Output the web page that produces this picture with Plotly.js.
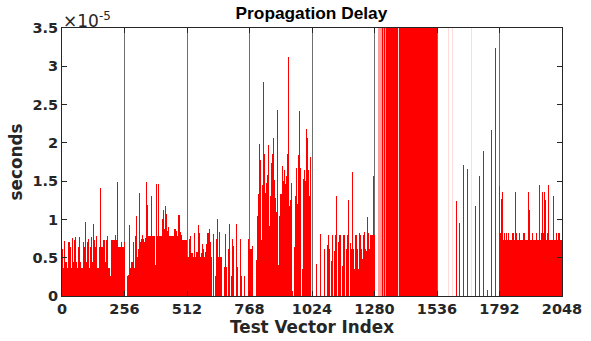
<!DOCTYPE html>
<html>
<head>
<meta charset="utf-8">
<script src="https://cdn.plot.ly/plotly-3.0.1.min.js"></script>
<style>html,body{margin:0;padding:0;background:#fff;}#chart{width:591px;height:341px;}</style>
</head>
<body>
<div id="chart"></div>
<script>
// Propagation delay per test vector, in units of 1e-5 s.
// Each value covers a group of 4 consecutive test vectors (64 groups per block of 256).
const SAT = 5; // off-scale (above 3.5e-5)
const block0 = [0.62,0.36,0.72,0.45,0.45,0.36,0.71,0.71,0.64,0.36,0.76,0.45,0.73,0.77,0.45,0.36,
  0.64,0.77,0.45,0.36,0.36,0.62,0.71,0.64,0.97,0.45,0.71,0.74,0.36,0.64,0.77,0.45,
  0.94,0.73,0.64,0.78,0.36,0.36,0.64,1.41,0.64,0.64,0.73,0.73,0.45,0.73,0.79,0.36,
  0.37,0.26,0.73,0.73,0.73,0.73,0.80,0.73,1.49,0.64,0.64,0.64,0.71,0.64,0.64,0.71];
const block1 = [0,0,0,0.26,0.27,0.93,0.36,0.45,0.45,0.71,0.36,0.78,1.05,0.51,0.62,1.35,
  0.71,0.75,0.80,0.75,0.71,0.76,1.49,1.19,0.78,0.78,0.78,1.30,0.78,0.78,0.78,0.40,
  1.46,0.78,1.46,0.78,0.78,0.78,1.00,1.12,0.88,1.17,0.78,1.07,0.85,0.90,0.78,0.78,
  0.78,0.78,0.78,0.88,0.88,0.85,0.78,1.06,1.06,0.83,0.80,0.73,0.73,0.73,0.73,0.73];
const block2 = [0.51,0.51,0.75,0.78,0.56,0.56,0.51,0.82,0.51,0.57,0.57,0.93,0.82,0.51,0.56,0.68,
  0.62,0.51,0.57,0.68,0.82,0.57,0.82,0.87,0.70,0.51,0,0.81,0,0.26,0.75,1.00,
  0.51,0.84,0.51,0.51,0,0,0.38,0.81,0.38,0,0.62,0.94,0,0.26,0.75,0.65,
  0,0,0.94,0.38,0,0,0.74,0.26,0,0,0.26,0,0,0,0.74,0.62];
const block3 = [0.62,0.62,0.62,0.65,0,0,0,0.47,1.04,1.33,1.99,1.78,0.73,1.45,2.79,1.86,
  1.35,1.47,1.58,1.97,0.92,1.30,1.74,1.86,2.06,1.52,1.28,1.10,2.43,0.41,1.05,1.33,
  1.33,1.70,1.50,1.65,1.46,1.57,1.86,3.12,1.18,1.26,1.82,1.47,0.06,0,0.64,1.30,
  1.67,1.20,1.84,2.41,1.67,0,0.35,1.53,1.64,1.50,2.18,2.06,1.64,1.30,1.82,0];
const block4 = [0,0,0,0,0.42,0,0,0,0.81,0,0,0,0.62,0,0,0.67,
  0.80,0.62,0,0.46,0.80,0.62,0,0.59,0.80,1.31,0,0.71,0.80,0.80,0,0.39,
  0.80,0.80,0,0.62,0.80,1.25,0,0.69,0.62,1.62,0.62,0.35,0.80,0.80,0.62,0.35,
  0.82,0.80,0.62,0.48,0.80,0.84,0.62,0.59,1.03,0.82,0.62,0.80,0.80,0.80,1.57,0.80];
const block5 = [0,0,0,0,0,0,0,0,SAT,0,SAT,0,SAT,SAT,SAT,SAT,
  SAT,SAT,SAT,SAT,SAT,SAT,SAT,SAT,0,SAT,SAT,SAT,SAT,SAT,SAT,SAT,
  SAT,SAT,SAT,SAT,SAT,SAT,SAT,SAT,SAT,SAT,SAT,SAT,SAT,SAT,SAT,SAT,
  SAT,SAT,SAT,SAT,SAT,SAT,SAT,SAT,SAT,SAT,SAT,SAT,SAT,SAT,SAT,SAT];
const block6 = [0,0,0,0,0,0,0,0,0,0,0,0,0,0,0,0,
  0,0,0,1.24,0,0,0,0.95,0,0,0,1.71,0,0,0,1.66,
  0,0,0,0,0,0,0,1.17,0,0,0,1.57,0,0,0,1.90,
  0,0,0,0.08,0,0,0,2.17,0,0,0,3.24,0,0,0,1.44];
const block7 = [0.73,0.82,1.27,1.36,0.73,0.82,0.73,0.82,0.73,0.82,0.73,0.73,0.73,0.82,0.82,0.73,
  1.36,0.82,0.73,0.73,0.82,0.73,0.73,0.73,0.82,0.82,0.73,0.73,0.73,1.36,1.12,0.73,
  0.73,0.82,0.73,0.73,0.73,0.82,0.73,0.73,1.45,0.73,0.73,0.82,1.36,0.82,1.36,1.25,
  0.73,0.82,1.45,0.73,0.73,0.73,0.73,1.31,0.73,0.73,0.82,0.73,0.82,0.82,0.73,0.73];
// Off-scale groups that are only partly filled (drawn as faint lines in the reference)
const partialStart = [1296,1300,1304,1308,1316,1324];
const partialVal   = [SAT,SAT,SAT,SAT,SAT,SAT];
const sparseStart  = [1376,1580,1596,1676];
const sparseVal    = [SAT,SAT,SAT,SAT];
const xTicks = [0,256,512,768,1024,1280,1536,1792,2048];
const yTicks = [0,0.5,1,1.5,2,2.5,3,3.5];
const yTickText = ['0','0.5','1','1.5','2','2.5','3','3.5'];

const blocks = [block0,block1,block2,block3,block4,block5,block6,block7];
const GROUP = 4;
const xs = [], ys = [];
blocks.forEach((b, s) => b.forEach((v, j) => { xs.push(256*s + GROUP*j + GROUP/2); ys.push(v); }));

const font = 'DejaVu Sans, Verdana, sans-serif';
const titleFont = 'Liberation Sans, Arial, Helvetica, sans-serif';
const ink = '#262626';
const traces = [
  {type:'bar', x: xs, y: ys, width: GROUP, marker:{color:'rgba(255,0,0,0.999)', line:{width:0}}, hoverinfo:'skip'},
  {type:'bar', x: partialStart.map(v=>v+GROUP/2), y: partialVal, width: GROUP, marker:{color:'#ff9c9c', line:{width:0}}, hoverinfo:'skip'},
  {type:'bar', x: sparseStart.map(v=>v+GROUP/2), y: sparseVal, width: GROUP, marker:{color:'#ffdcdc', line:{width:0}}, hoverinfo:'skip'}
];
const layout = {
  width: 591, height: 341,
  margin: {l:62, r:29, t:28, b:45, pad:0},
  paper_bgcolor:'#ffffff', plot_bgcolor:'#ffffff',
  showlegend:false, barmode:'overlay', bargap:0, bargroupgap:0,
  font:{family:font, color:ink},
  title:{text:'Propagation Delay', font:{family:titleFont, size:17.3, weight:'bold', color:'#000'}, x:0.527, xanchor:'center', y:0.963, yanchor:'middle'},
  xaxis:{range:[0,2048], tickvals:xTicks, ticktext:xTicks.map(String), ticks:'inside', ticklen:5, tickcolor:ink,
    showline:true, linecolor:ink, linewidth:1, mirror:'ticks', showgrid:true, gridcolor:'#6e6e6e', gridwidth:1, zeroline:false,
    tickfont:{family:font, size:14.5, weight:'bold', color:ink},
    title:{text:'Test Vector Index', font:{family:font, size:16.8, weight:'bold', color:ink}, standoff:1}},
  yaxis:{range:[0,3.5], tickvals:yTicks, ticktext:yTickText, ticks:'inside', ticklen:5, tickcolor:ink,
    showline:true, linecolor:ink, linewidth:1, mirror:'ticks', showgrid:false, zeroline:false,
    tickfont:{family:font, size:14.5, weight:'bold', color:ink},
    title:{text:'seconds', font:{family:font, size:16.8, weight:'bold', color:ink}, standoff:5}},
  annotations:[{xref:'paper', yref:'paper', x:0, y:1, xanchor:'left', yanchor:'bottom', showarrow:false,
    text:'×10<sup>-5</sup>', font:{family:font, size:17, color:ink}, yshift:-5, xshift:-1}]
};
Plotly.newPlot('chart', traces, layout, {staticPlot:true, displayModeBar:false});
</script>
</body>
</html>
